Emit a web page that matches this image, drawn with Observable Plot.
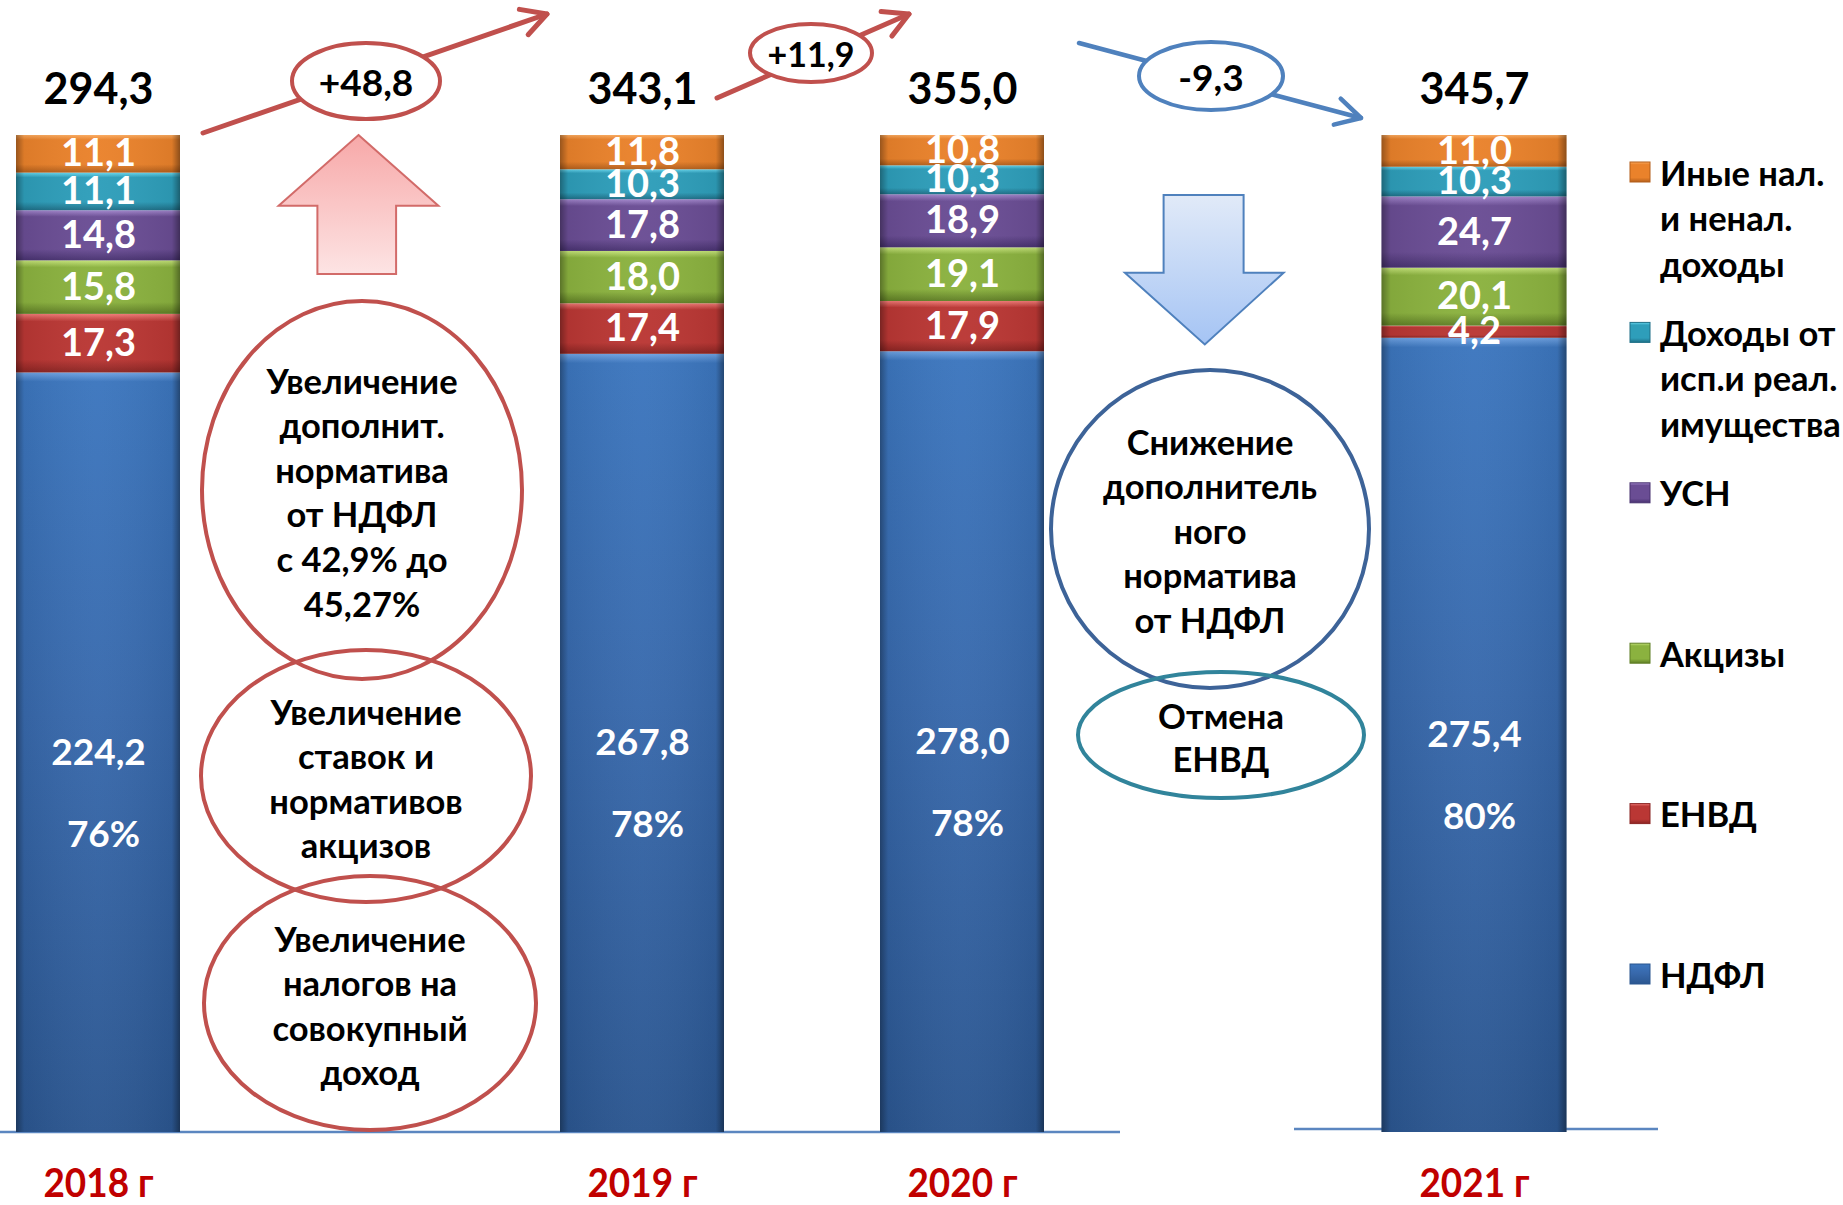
<!DOCTYPE html>
<html><head><meta charset="utf-8">
<script src="https://cdn.jsdelivr.net/npm/d3@7"></script>
<script src="https://cdn.jsdelivr.net/npm/@observablehq/plot@0.6"></script>
<style>
html,body{margin:0;padding:0;background:#fff;}
#chart{width:1843px;height:1205px;overflow:hidden;}
</style></head><body><div id="chart"></div>
<script>
// ---------- data ----------
const years = ["2018 г", "2019 г", "2020 г", "2021 г"];
const series = ["НДФЛ", "ЕНВД", "Акцизы", "УСН", "Доходы от исп.и реал. имущества", "Иные нал. и ненал. доходы"]; // bottom -> top
const ndfl   = [224.2, 267.8, 278.0, 275.4];
const envd   = [17.3, 17.4, 17.9, 4.2];
const akcizy = [15.8, 18.0, 19.1, 20.1];
const usn    = [14.8, 17.8, 18.9, 24.7];
const imush  = [11.1, 10.3, 10.3, 10.3];
const inye   = [11.1, 11.8, 10.8, 11.0];
const totals = [294.3, 343.1, 355.0, 345.7];
const shares = ["76%", "78%", "78%", "80%"];
const legendLabels = [["Иные нал.", "и ненал.", "доходы"], ["Доходы от", "исп.и реал.", "имущества"], ["УСН"], ["Акцизы"], ["ЕНВД"], ["НДФЛ"]]; // top -> bottom
const noteNdfl2019 = ["Увеличение", "дополнит.", "норматива", "от НДФЛ", "с 42,9% до", "45,27%"];
const noteAkciz = ["Увеличение", "ставок и", "нормативов", "акцизов"];
const noteSovok = ["Увеличение", "налогов на", "совокупный", "доход"];
const noteNdfl2021 = ["Снижение", "дополнитель", "ного", "норматива", "от НДФЛ"];
const noteEnvd = ["Отмена", "ЕНВД"];
// empty spacer slots between the years reproduce the uneven spacing of the slide
const gapSlots = [16, 9, 15];
const slots = [];
years.forEach((y, i) => {
  slots.push(y);
  if (i < gapSlots.length) for (let k = 0; k < gapSlots[i]; k++) slots.push(`·${i}-${k}`);
});

const seriesValues = [ndfl, envd, akcizy, usn, imush, inye];
const data = [];
years.forEach((yr, i) => series.forEach((s, k) => data.push({year: yr, series: s, value: seriesValues[k][i], yi: i})));

const FONT = "Lato, 'Open Sans', 'Noto Sans', sans-serif";
const fmt = v => d3.format(".1f")(Math.abs(v)).replace(".", ",");
const fmtSigned = v => (v >= 0 ? "+" : "-") + fmt(v);

// gradient palettes: [light top, base, dark bottom]
const pal = [
  ["#6FA3E3", "#3C76BE", "#2B5690"],
  ["#F07A76", "#BA3734", "#8A2422"],
  ["#C6E47A", "#8BB23F", "#5F7E25"],
  ["#A286CC", "#6A4D94", "#483270"],
  ["#66D6EE", "#2E9EBA", "#1E6F87"],
  ["#FBAA5E", "#EA822B", "#B45F1B"]
];

const stack = extra => Plot.stackY({x: "year", y: "value", z: "series", order: series, offset: "normalize", ...extra});
const is2021 = d => d.year === years[3];
const IN = -66, IN21 = -76.5;

const plot = Plot.plot({
  width: 1843, height: 1205,
  marginTop: 135, marginBottom: 73, marginLeft: 79, marginRight: 351,
  x: {type: "band", domain: slots, padding: 0, axis: null},
  y: {domain: [0, 1], axis: null},
  color: {domain: series, range: series.map((s, i) => `url(#grad${i})`)},
  style: {fontFamily: FONT, background: "white", overflow: "visible"},
  marks: [
    Plot.barY(data, stack({fill: "series", filter: d => !is2021(d), insetLeft: IN, insetRight: IN})),
    Plot.barY(data, stack({fill: "series", filter: is2021, insetLeft: IN21, insetRight: IN21})),
    Plot.barY(data, stack({fill: "url(#hshade)", filter: d => !is2021(d), insetLeft: IN, insetRight: IN})),
    Plot.barY(data, stack({fill: "url(#hshade)", filter: is2021, insetLeft: IN21, insetRight: IN21})),
    // segment value labels
    Plot.text(data, stack({text: d => d.series === series[0] ? null : fmt(d.value), fill: "white", fontSize: 38, fontWeight: "bold"})),
    Plot.text(data, stack({text: d => d.series === series[0] ? fmt(d.value) : null, fill: "white", fontSize: 37, fontWeight: "bold"})),
    Plot.text(data, stack({text: d => d.series === series[0] ? shares[d.yi] : null, dy: 82, dx: 5, fill: "white", fontSize: 37, fontWeight: "bold"})),
    // totals
    Plot.text(years, {x: d => d, frameAnchor: "top", lineAnchor: "middle", dy: -45, text: (d, i) => fmt(totals[i]), fill: "black", fontSize: 43, fontWeight: "bold"}),
    // year labels
    Plot.text(years, {x: d => d, frameAnchor: "bottom", lineAnchor: "middle", dy: 51, text: d => d, fill: "#C00000", fontSize: 41, fontWeight: "bold"})
  ]
});
document.getElementById("chart").appendChild(plot);

const svgNode = plot.tagName.toLowerCase() === "svg" ? plot : plot.querySelector("svg");
const svg = d3.select(svgNode);

// slightly condensed year labels
const yearTexts = Array.from(svgNode.querySelectorAll("text")).filter(t => years.includes(t.textContent));
yearTexts.forEach(t => {
  const tr = t.getAttribute("transform");
  if (tr) t.setAttribute("transform", tr + " scale(0.9,1)");
  else {
    const x = +t.getAttribute("x") || 0, y = +t.getAttribute("y") || 0;
    t.removeAttribute("x"); t.removeAttribute("y");
    t.setAttribute("transform", `translate(${x},${y}) scale(0.9,1)`);
  }
});

// ---------- gradients ----------
const defs = svg.insert("defs", ":first-child");
pal.forEach((p, i) => {
  const lg = defs.append("linearGradient").attr("id", `grad${i}`).attr("x1", 0).attr("y1", 0).attr("x2", 0).attr("y2", 1);
  const stops = i === 0
    ? [[0, p[0]], [0.012, p[1]], [0.45, "#3869AC"], [1, p[2]]]
    : [[0, p[0]], [0.13, p[1]], [0.78, p[1]], [1, p[2]]];
  stops.forEach(([o, c]) => lg.append("stop").attr("offset", o).attr("stop-color", c));
});
const hs = defs.append("linearGradient").attr("id", "hshade").attr("x1", 0).attr("y1", 0).attr("x2", 1).attr("y2", 0);
[[0, "rgba(0,0,0,0.35)"], [0.05, "rgba(0,0,0,0.06)"], [0.5, "rgba(255,255,255,0.03)"], [0.95, "rgba(0,0,0,0.06)"], [1, "rgba(0,0,0,0.4)"]]
  .forEach(([o, c]) => hs.append("stop").attr("offset", o).attr("stop-color", c));
const upG = defs.append("linearGradient").attr("id", "upArrow").attr("x1", 0).attr("y1", 0).attr("x2", 0).attr("y2", 1);
[[0, "#F7A8A8"], [1, "#FDE4E4"]].forEach(([o, c]) => upG.append("stop").attr("offset", o).attr("stop-color", c));
const dnG = defs.append("linearGradient").attr("id", "dnArrow").attr("x1", 0).attr("y1", 0).attr("x2", 0).attr("y2", 1);
[[0, "#E1EAF8"], [1, "#A5C4F4"]].forEach(([o, c]) => dnG.append("stop").attr("offset", o).attr("stop-color", c));

// ---------- baselines (behind bars) ----------
const base = svg.insert("g", "defs + *");
[[0, 482, 1132], [482, 1120, 1132], [1294, 1658, 1129]].forEach(([x1, x2, y]) =>
  base.append("line").attr("x1", x1).attr("x2", x2).attr("y1", y).attr("y2", y).attr("stroke", "#5B86C0").attr("stroke-width", 2.5));

// ---------- annotations ----------
const g = svg.append("g").attr("font-family", FONT).attr("font-weight", "bold").attr("text-anchor", "middle");

function arrow(x1, y1, x2, y2, color, w) {
  g.append("line").attr("x1", x1).attr("y1", y1).attr("x2", x2).attr("y2", y2)
    .attr("stroke", color).attr("stroke-width", w).attr("stroke-linecap", "round");
  const a = Math.atan2(y2 - y1, x2 - x1), L = 28, s = 0.5;
  const p1 = [x2 - L * Math.cos(a - s), y2 - L * Math.sin(a - s)];
  const p2 = [x2 - L * Math.cos(a + s), y2 - L * Math.sin(a + s)];
  g.append("path").attr("d", `M${p1}L${x2},${y2}L${p2}`).attr("fill", "none")
    .attr("stroke", color).attr("stroke-width", w).attr("stroke-linecap", "round").attr("stroke-linejoin", "round");
}
function badge(cx, cy, rx, ry, color, text, fs) {
  g.append("ellipse").attr("cx", cx).attr("cy", cy).attr("rx", rx).attr("ry", ry)
    .attr("fill", "white").attr("stroke", color).attr("stroke-width", 4);
  g.append("text").attr("x", cx).attr("y", cy).attr("text-anchor", "middle").attr("dominant-baseline", "central")
    .attr("font-size", fs).attr("fill", "black").text(text);
}
arrow(203, 133, 547, 14, "#C0504D", 5);
badge(366, 81, 74, 38, "#C0504D", fmtSigned(totals[1] - totals[0]), 37);
arrow(717, 98, 909, 14, "#C0504D", 5);
badge(811, 53, 61, 29, "#C0504D", fmtSigned(totals[2] - totals[1]), 34);
arrow(1079, 43, 1361, 118, "#4F81BD", 4.5);
badge(1211, 76, 72, 34, "#4F81BD", fmtSigned(totals[3] - totals[2]), 37);

// block arrows
g.append("path").attr("d", "M358.5,135 L438.4,205.7 L396.1,205.7 L396.1,274 L317.4,274 L317.4,205.7 L278.6,205.7 Z")
  .attr("fill", "url(#upArrow)").attr("stroke", "#D26B69").attr("stroke-width", 2);
g.append("path").attr("d", "M1163.6,195 L1243.6,195 L1243.6,272.7 L1283.6,272.7 L1204.8,344.4 L1124.9,272.7 L1163.6,272.7 Z")
  .attr("fill", "url(#dnArrow)").attr("stroke", "#4F81BD").attr("stroke-width", 2);

function note(cx, cy, rx, ry, color, lines, y0, step) {
  g.append("ellipse").attr("cx", cx).attr("cy", cy).attr("rx", rx).attr("ry", ry)
    .attr("fill", "none").attr("stroke", color).attr("stroke-width", 4);
  lines.forEach((l, j) => g.append("text").attr("x", cx).attr("y", y0 + j * step)
    .attr("text-anchor", "middle").attr("dominant-baseline", "central").attr("font-size", 34.5).attr("fill", "black").text(l));
}
note(362, 490, 160, 189, "#C0504D", noteNdfl2019, 380, 44.6);
note(366, 776, 165, 126, "#C0504D", noteAkciz, 711, 44.6);
note(370, 1003, 166, 127, "#C0504D", noteSovok, 938, 44.6);
note(1210, 529, 159, 159, "#3D6398", noteNdfl2021, 441, 44.6);
note(1221, 735, 143, 63, "#31849B", noteEnvd, 715, 43);

// ---------- legend ----------
const lg = svg.append("g").attr("font-family", FONT).attr("font-weight", "bold").attr("text-anchor", "start");
legendLabels.forEach((lines, i) => {
  const y0 = 172 + i * 160.4;
  const k = series.length - 1 - i;
  lg.append("rect").attr("x", 1630).attr("y", y0 - 10).attr("width", 20).attr("height", 20)
    .attr("fill", `url(#grad${k})`).attr("stroke", pal[k][2]).attr("stroke-width", 1);
  lines.forEach((l, j) => lg.append("text").attr("x", 1660).attr("y", y0 + j * 45.5)
    .attr("text-anchor", "start").attr("dominant-baseline", "central").attr("font-size", 34.5).attr("fill", "black").text(l));
});
</script></body></html>
